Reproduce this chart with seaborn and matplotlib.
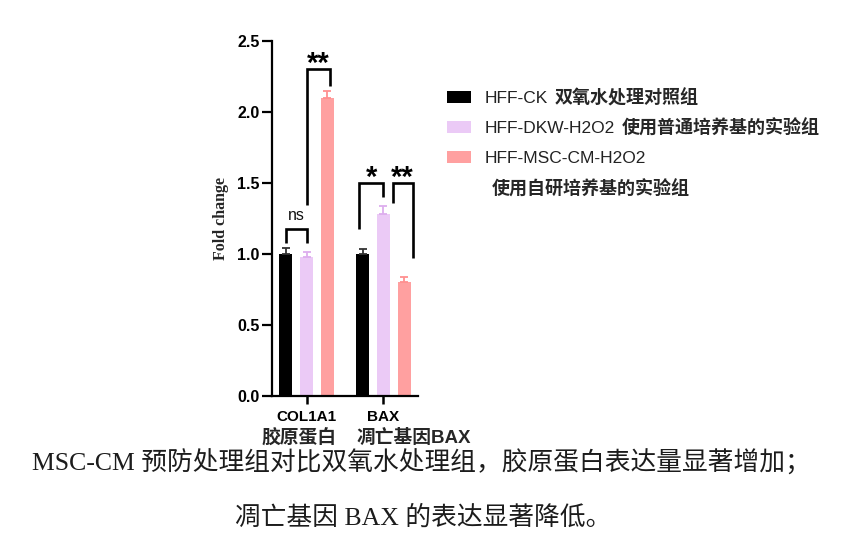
import pandas as pd
import matplotlib
matplotlib.use("Agg")
import matplotlib.pyplot as plt
import matplotlib.transforms as mtransforms
from matplotlib.patches import Patch
import seaborn as sns


# ---------------------------------
# DATA
# ---------------------------------

genes = ["COL1A1", "BAX"]
genes_cn = ["胶原蛋白", "凋亡基因BAX"]

groups = ["HFF-CK", "HFF-DKW-H2O2", "HFF-MSC-CM-H2O2"]
groups_cn = ["双氧水处理对照组", "使用普通培养基的实验组", "使用自研培养基的实验组"]

ck_mean = [1.00, 1.00]
ck_err = [0.04, 0.035]
dkw_mean = [0.98, 1.28]
dkw_err = [0.035, 0.055]
msc_mean = [2.10, 0.80]
msc_err = [0.045, 0.035]

# significance brackets: (gene index, group a, group b)
sig_pairs = [(0, 0, 1), (0, 1, 2), (1, 0, 1), (1, 1, 2)]
sig_labels = ["ns", "**", "*", "**"]
# left leg bottom, right leg bottom, top
sig_heights = [(1.077, 1.077, 1.176),
               (1.345, 2.18, 2.30),
               (1.176, 1.40, 1.50),
               (1.36, 0.97, 1.50)]

caption_lines = ["MSC-CM 预防处理组对比双氧水处理组，胶原蛋白表达量显著增加；",
                 "凋亡基因 BAX 的表达显著降低。"]

bar_colors = ["#000000", "#EBCAF6", "#FFA0A0"]
err_colors = ["#333333", "#DDAEEE", "#FF9090"]


def build_frame():
    rows = []
    for gi, g in enumerate(genes):
        for k, (m, e) in enumerate(zip([ck_mean, dkw_mean, msc_mean],
                                        [ck_err, dkw_err, msc_err])):
            rows.append({"gene": g, "group": groups[k], "value": m[gi], "err": e[gi]})
    return pd.DataFrame(rows)


def main():

    sns.set_style("ticks")
    plt.rcParams["font.family"] = ["Liberation Sans", "Noto Sans CJK SC"]

    df = build_frame()

    fig = plt.figure(figsize=(8.43, 5.42), dpi=100)
    ax = fig.add_axes([272 / 843, 146 / 542, 146 / 843, 355 / 542])

    sns.barplot(data=df, x="gene", y="value", hue="group",
                order=genes, hue_order=groups, palette=bar_colors,
                width=0.81, gap=0.37, errorbar=None, saturation=1,
                legend=False, ax=ax, linewidth=0)

    # bar centres in the order COL1A1(ck,dkw,msc), BAX(ck,dkw,msc)
    bars = sorted([p for p in ax.patches if p.get_height() > 0],
                  key=lambda p: p.get_x())
    centers = [p.get_x() + p.get_width() / 2 for p in bars]

    for i, (x, row) in enumerate(zip(centers, df.itertuples())):
        k = i % 3
        ax.errorbar(x, row.value, yerr=[[0], [row.err]], fmt="none",
                    ecolor=err_colors[k], elinewidth=1.3, capsize=2.8,
                    capthick=1.3, zorder=3)

    # significance brackets
    x_shift = [(0.0, 0.0), (0.0, 0.035), (-0.05, 0.0), (0.12, 0.11)]
    for (gi, a, b), lab, (yl, yr, yt), (sa, sb) in zip(sig_pairs, sig_labels,
                                                        sig_heights, x_shift):
        x1 = centers[gi * 3 + a] + sa
        x2 = centers[gi * 3 + b] + sb
        ax.plot([x1, x1, x2, x2], [yl, yt, yt, yr], color="black", lw=1.9,
                solid_joinstyle="miter", solid_capstyle="butt", clip_on=False)
        if lab == "ns":
            ax.text((x1 + x2) / 2, yt + 0.06, lab, ha="center", va="baseline",
                    fontsize=11.5, color="#111111")
        else:
            ax.text((x1 + x2) / 2, yt - 0.02, lab, ha="center", va="baseline",
                    fontsize=21, fontweight="bold", color="black")

    ax.set_xlim(-0.45, 1.45)
    ax.set_ylim(0, 2.5)
    ax.set_yticks([0, 0.5, 1.0, 1.5, 2.0, 2.5])
    ax.set_yticklabels([f"{v:.1f}" for v in [0, 0.5, 1.0, 1.5, 2.0, 2.5]],
                       fontweight="bold", fontsize=11.5)
    ax.set_xticks([0, 1])
    ax.set_xticklabels(genes, fontweight="bold", fontsize=11)
    ax.tick_params(axis="y", length=7, width=1.6, pad=2, colors="black")
    ax.tick_params(axis="x", length=6, width=1.8, pad=4, colors="black")
    for s in ["left", "bottom"]:
        ax.spines[s].set_linewidth(1.6)
        ax.spines[s].set_color("black")
    sns.despine(ax=ax)

    ax.set_xlabel("")
    ax.set_ylabel("Fold change", fontfamily="Liberation Serif",
                  fontweight="bold", fontsize=11.5, labelpad=6)

    # chinese second line under the gene names
    trans = mtransforms.blended_transform_factory(ax.transData, ax.transAxes)
    cn_shift = [-0.1, 0.39]
    for i, txt in enumerate(genes_cn):
        ax.text(i + cn_shift[i], -0.118, txt, transform=trans, ha="center",
                va="center", fontsize=13.5, fontweight="bold", clip_on=False)

    # legend
    handles = [Patch(facecolor=c, edgecolor="none") for c in bar_colors]
    leg = fig.legend(handles, groups, loc="upper left",
                     bbox_to_anchor=(447 / 843, 1 - 91 / 542), frameon=False,
                     fontsize=12.5, handlelength=1.4, handleheight=0.7,
                     handletextpad=0.75, labelspacing=0.86, borderpad=0,
                     borderaxespad=0)
    for i, t in enumerate(leg.get_texts()):
        t.set_color("#222222")
        if i < 2:
            fig.add_artist(plt.Annotation(groups_cn[i], xy=(1, 0.5), xycoords=t,
                                          xytext=(5, 0), textcoords="offset points",
                                          ha="left", va="center", fontsize=13,
                                          fontweight="bold", zorder=10))
        else:
            fig.add_artist(plt.Annotation(groups_cn[i], xy=(0, 0), xycoords=t,
                                          xytext=(5, -10), textcoords="offset points",
                                          ha="left", va="top", fontsize=13,
                                          fontweight="bold", zorder=10))

    # caption
    cap_family = ["Liberation Serif", "Noto Sans CJK SC"]
    fig.text(421 / 843, 1 - 463 / 542, caption_lines[0], ha="center", va="center",
             fontsize=18.5, family=cap_family, color="#1c1c1c")
    fig.text(423 / 843, 1 - 518 / 542, caption_lines[1], ha="center", va="center",
             fontsize=18.5, family=cap_family, color="#1c1c1c")

    fig.savefig("out.png", dpi=100)


if __name__ == "__main__":
    main()
